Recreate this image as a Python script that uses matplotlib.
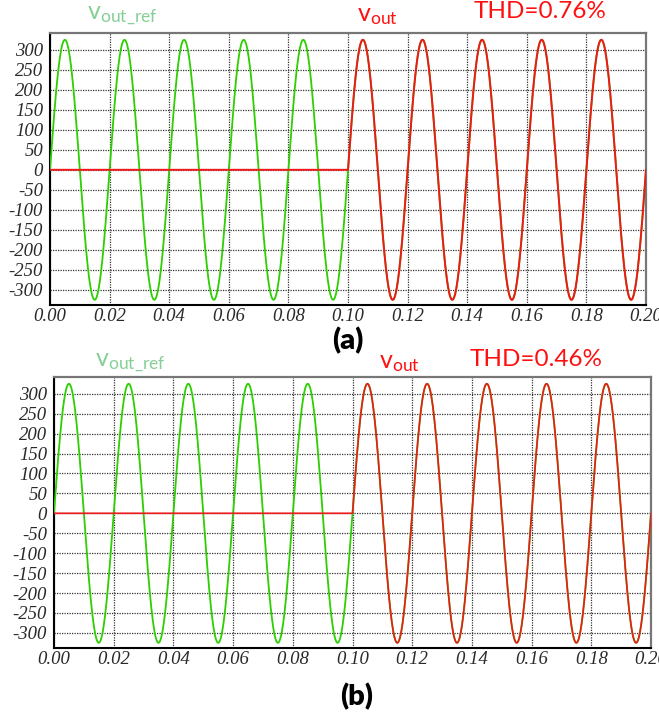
import numpy as np
import matplotlib
matplotlib.use("Agg")
import matplotlib.pyplot as plt

plt.rcParams['font.family'] = ['Lato', 'DejaVu Sans']
plt.rcParams['mathtext.fontset'] = 'custom'
plt.rcParams['mathtext.rm'] = 'Lato'
plt.rcParams['axes.unicode_minus'] = False

# Data
amp_peak = 325.0        # V, peak of the 230 V rms sine
freq = 50.0             # Hz
t_switch = 0.10         # s, vout starts here
t_end = 0.20
thd_labels = ["THD=0.76%", "THD=0.46%"]
panel_labels = ["(a)", "(b)"]
x_ticks = [0.00, 0.02, 0.04, 0.06, 0.08, 0.10, 0.12, 0.14, 0.16, 0.18, 0.20]
y_ticks = [-300, -250, -200, -150, -100, -50, 0, 50, 100, 150, 200, 250, 300]

t = np.linspace(0, t_end, 4001)
v_ref = amp_peak * np.sin(2 * np.pi * freq * t)
v_out = np.where(t >= t_switch, v_ref, 0.0)

W, H = 659, 718
fig = plt.figure(figsize=(W / 100, H / 100), dpi=100)


def box(l, t_, r, b):
    # pixel box -> figure fraction
    return [l / W, 1 - b / H, (r - l) / W, (b - t_) / H]


def ftxt(x, y, s, **kw):
    fig.text(x / W, 1 - y / H, s, **kw)


green = '#2ccf00'
red = '#f01818'
tick_font = dict(family='Liberation Serif', style='italic', size=13.5, color='#2a2a2a')

panels = [
    dict(box=box(50, 33, 646, 305), red_lw=1.4, txt_y=15, lab_y=341,
         ref_x=87, out_x=357, thd_x=474, lab_x=348),
    dict(box=box(54, 377, 651, 648), red_lw=1.2, txt_y=362, lab_y=697,
         ref_x=95, out_x=379, thd_x=470, lab_x=357),
]

for i, p in enumerate(panels):
    ax = fig.add_axes(p['box'])
    ax.plot(t, v_ref, color=green, lw=1.3, zorder=3)
    ax.plot(t, v_out, color=red, lw=p['red_lw'], zorder=4)
    ax.set_xlim(0, t_end)
    ax.set_ylim(-338, 342)
    ax.set_xticks(x_ticks)
    ax.set_xticklabels([f"{v:.2f}" for v in x_ticks], fontdict=tick_font)
    ax.set_yticks(y_ticks)
    ax.set_yticklabels([str(v) for v in y_ticks], fontdict=tick_font)
    ax.tick_params(axis='both', length=0)
    ax.tick_params(axis='y', pad=5)
    ax.tick_params(axis='x', pad=2)
    ax.grid(True, color='#333333', linestyle=(0, (1, 1)), lw=0.9)
    for side in ('left', 'bottom'):
        ax.spines[side].set_color('black')
        ax.spines[side].set_linewidth(1.5)
    for side in ('top', 'right'):
        ax.spines[side].set_color('#777777')
        ax.spines[side].set_linewidth(1.6)

    ftxt(p['ref_x'], p['txt_y'], r'$\mathregular{v_{out\_ref}}$', color='#86cf96',
         fontsize=18, va='center', ha='left')
    ftxt(p['out_x'], p['txt_y'], r'$\mathregular{v_{out}}$', color='#ff1010',
         fontsize=18, va='center', ha='left')
    ftxt(p['thd_x'], p['txt_y'] - 3, thd_labels[i], color='#ff1010',
         fontsize=17.5, va='center', ha='left')
    ftxt(p['lab_x'], p['lab_y'], panel_labels[i], color='black',
         fontsize=21, fontweight='heavy', va='center', ha='center')

fig.savefig("out.png", dpi=100)
